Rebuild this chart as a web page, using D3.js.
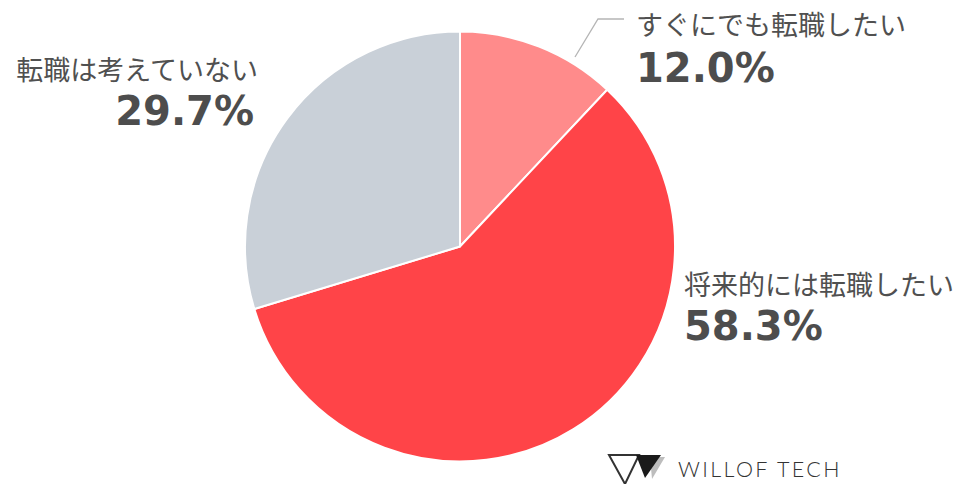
<!DOCTYPE html>
<html>
<head>
<meta charset="utf-8">
<script src="https://cdn.jsdelivr.net/npm/d3@7"></script>
<style>
  body { margin: 0; background: #fff; }
  svg { display: block; }
  .lbl { font-family: "Noto Sans CJK JP", sans-serif; font-size: 27px; fill: #505050; }
  .pct { font-family: "DejaVu Sans", Verdana, sans-serif; font-weight: bold; font-size: 40px; fill: #4d4d4d; }
</style>
</head>
<body>
<svg id="chart" width="960" height="484"></svg>
<script>
"use strict";

// data
const categories = ["すぐにでも転職したい", "将来的には転職したい", "転職は考えていない"];
const values = [12.0, 58.3, 29.7];
const sliceColors = ["#ff8b8b", "#ff4448", "#c9d0d8"];

// layout
const cx = 460, cy = 246.5, radius = 215;

let svg = d3.select("#chart");

let pie = d3.pie().sort(null).value(d => d);
let arc = d3.arc().innerRadius(0).outerRadius(radius);
let arcs = pie(values);

// slices
svg.append("g")
.attr("transform", `translate(${cx}, ${cy})`)
.selectAll("path")
.data(arcs)
.join("path")
.attr("d", arc)
.attr("fill", (d, i) => sliceColors[i])
.attr("stroke", "#fff")
.attr("stroke-width", 2)
.attr("stroke-linejoin", "round");

// leader for the small slice
svg.append("polyline")
.attr("points", "575,57 598,19 624,19")
.attr("fill", "none")
.attr("stroke", "#b5b5b5")
.attr("stroke-width", 1.3);

// labels: [x, baseline of category, baseline of percent, anchor]
const labelPos = [
    [636, 35, 82, "start"],
    [684, 295, 340, "start"],
    [258, 80, 125, "end"]
];

let labels = svg.append("g").attr("class", "labels");
categories.forEach((c, i) => {
    let p = labelPos[i];
    labels.append("text")
    .attr("class", "lbl")
    .attr("x", p[0])
    .attr("y", p[1])
    .attr("text-anchor", p[3])
    .text(c);
    labels.append("text")
    .attr("class", "pct")
    .attr("x", p[3] == "end" ? p[0] - 4 : p[0])
    .attr("y", p[2])
    .attr("text-anchor", p[3])
    .text(d3.format(".1f")(values[i]) + "%");
});

// logo
let logo = svg.append("g").attr("class", "logo");
logo.append("polygon")
.attr("points", "650,457 665,457 652,479")
.attr("fill", "#bdbdbd");
logo.append("polygon")
.attr("points", "609,455 639,455 625,484")
.attr("fill", "none")
.attr("stroke", "#333")
.attr("stroke-width", 2);
logo.append("polygon")
.attr("points", "636,455 661,455 645,478")
.attr("fill", "#1a1a1a");
logo.append("text")
.attr("x", 678)
.attr("y", 477)
.attr("font-family", "Lato, 'Open Sans', sans-serif")
.attr("font-weight", 300)
.attr("font-size", 21.5)
.attr("letter-spacing", 2.4)
.attr("fill", "#333")
.text("WILLOF TECH");
</script>
</body>
</html>
